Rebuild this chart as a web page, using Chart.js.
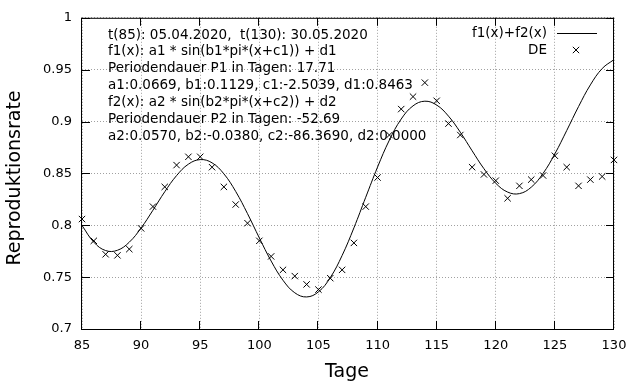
<!DOCTYPE html>
<html lang="de">
<head>
<meta charset="utf-8">
<title>Reproduktionsrate DE</title>
<script src="https://cdn.jsdelivr.net/npm/chart.js@4/dist/chart.umd.min.js"></script>
<style>
  html, body { margin: 0; padding: 0; background: #fff; }
  #wrap { width: 640px; height: 384px; }
</style>
</head>
<body>
<div id="wrap"><canvas id="rChart" width="640" height="384"></canvas></div>
<script>
'use strict';

/* ── Daten ─────────────────────────────────── */
const days = [85, 86, 87, 88, 89, 90, 91, 92, 93, 94, 95, 96, 97, 98, 99, 100,
  101, 102, 103, 104, 105, 106, 107, 108, 109, 110, 111, 112, 113, 114, 115,
  116, 117, 118, 119, 120, 121, 122, 123, 124, 125, 126, 127, 128, 129, 130];

const fitValues = [0.7998, 0.7837, 0.7756, 0.7759, 0.7837, 0.7974, 0.8145, 0.8323,
  0.8479, 0.8589, 0.8633, 0.8602, 0.8496, 0.8326, 0.8112, 0.7878, 0.7655, 0.7470,
  0.7349, 0.7309, 0.7358, 0.7495, 0.7708, 0.7975, 0.8270, 0.8561, 0.8821, 0.9024,
  0.9151, 0.9196, 0.9159, 0.9052, 0.8897, 0.8718, 0.8545, 0.8405, 0.8320, 0.8305,
  0.8367, 0.8500, 0.8689, 0.8913, 0.9144, 0.9353, 0.9511, 0.9597];

// DE Messwerte
const deValues = [0.806, 0.785, 0.772, 0.771, 0.777, 0.797, 0.818, 0.837, 0.858,
  0.866, 0.866, 0.856, 0.837, 0.820, 0.802, 0.785, 0.770, 0.757, 0.751, 0.743,
  0.738, 0.749, 0.757, 0.783, 0.818, 0.846, 0.887, 0.912, 0.924, 0.9375, 0.920,
  0.898, 0.887, 0.856, 0.849, 0.843, 0.826, 0.838, 0.844, 0.848, 0.867, 0.856,
  0.838, 0.844, 0.847, 0.863];

const xTicks = [85, 90, 95, 100, 105, 110, 115, 120, 125, 130];
const yTicks = [0.7, 0.75, 0.8, 0.85, 0.9, 0.95, 1];
const yTickLabels = ['0.7', '0.75', '0.8', '0.85', '0.9', '0.95', '1'];

const infoLines = [
  't(85): 05.04.2020,  t(130): 30.05.2020',
  'f1(x): a1 * sin(b1*pi*(x+c1)) + d1',
  'Periodendauer P1 in Tagen: 17.71',
  'a1:0.0669, b1:0.1129, c1:-2.5039, d1:0.8463',
  'f2(x): a2 * sin(b2*pi*(x+c2)) + d2',
  'Periodendauer P2 in Tagen: -52.69',
  'a2:0.0570, b2:-0.0380, c2:-86.3690, d2:0.0000',
];

const FONT = "'DejaVu Sans', sans-serif";

/* ── Rahmen, Tics, Texte (gnuplot-Stil) ────── */
const gnuplotDeco = {
  id: 'gnuplotDeco',
  afterDatasetsDraw(chart) {
    const { ctx, chartArea: a, scales } = chart;
    ctx.save();
    ctx.strokeStyle = '#000';
    ctx.lineWidth = 1;

    // Rahmen
    ctx.strokeRect(a.left - 0.5, a.top + 0.5, a.right - a.left, a.bottom - a.top);

    // Tics nach innen, gespiegelt
    const tl = 8;
    ctx.beginPath();
    xTicks.forEach(v => {
      const px = Math.round(scales.x.getPixelForValue(v)) - 0.5;
      ctx.moveTo(px, a.bottom); ctx.lineTo(px, a.bottom - tl);
      ctx.moveTo(px, a.top);    ctx.lineTo(px, a.top + tl);
    });
    yTicks.forEach(v => {
      const py = Math.round(scales.y.getPixelForValue(v)) + 0.5;
      ctx.moveTo(a.left, py);  ctx.lineTo(a.left + tl, py);
      ctx.moveTo(a.right, py); ctx.lineTo(a.right - tl, py);
    });
    ctx.stroke();

    // Infotext
    ctx.fillStyle = '#000';
    ctx.font = '13.5px ' + FONT;
    ctx.textAlign = 'left';
    ctx.textBaseline = 'middle';
    infoLines.forEach((t, i) => ctx.fillText(t, 108, 35 + i * 16.95));

    // Legende
    ctx.textAlign = 'right';
    ctx.fillText('f1(x)+f2(x)', 547, 33);
    ctx.fillText('DE', 547, 50);
    ctx.beginPath();
    ctx.moveTo(557, 33.5); ctx.lineTo(597, 33.5);
    ctx.stroke();
    Chart.helpers.drawPoint(ctx, { pointStyle: 'crossRot', radius: 4.5, borderWidth: 1 }, 576, 50);

    // Achsentitel
    ctx.font = '19px ' + FONT;
    ctx.textAlign = 'center';
    ctx.fillText('Tage', 347, 372);
    ctx.translate(15, 178);
    ctx.rotate(-Math.PI / 2);
    ctx.fillText('Reproduktionsrate', 0, 0);
    ctx.restore();
  },
};

/* ── Chart ─────────────────────────────────── */
function buildChart() {
  const canvas = document.getElementById('rChart');

  const fitPoints = days.map((d, i) => ({ x: d, y: fitValues[i] }));
  const dePoints  = days.map((d, i) => ({ x: d, y: deValues[i] }));

  return new Chart(canvas.getContext('2d'), {
    type: 'scatter',
    data: {
      datasets: [
        {
          label: 'f1(x)+f2(x)',
          data: fitPoints,
          showLine: true,
          borderColor: '#000',
          borderWidth: 1,
          tension: 0.4,
          pointRadius: 0,
          fill: false,
        },
        {
          label: 'DE',
          data: dePoints,
          pointStyle: 'crossRot',
          pointRadius: 4.5,
          pointBorderWidth: 1,
          borderColor: '#000',
          backgroundColor: '#000',
          clip: false,
        },
      ],
    },
    options: {
      responsive: false,
      animation: false,
      layout: { padding: { top: 17, right: 26, bottom: 0, left: 0 } },
      plugins: { legend: { display: false }, tooltip: { enabled: false } },
      scales: {
        x: {
          type: 'linear',
          min: 85, max: 130,
          afterFit(s) { s.height = 55; },
          afterBuildTicks(s) { s.ticks = xTicks.map(v => ({ value: v })); },
          grid: { color: '#a0a0a0', drawTicks: false },
          border: { display: false, dash: [1, 2] },
          ticks: { color: '#000', padding: 9, font: { family: FONT, size: 13 }, maxRotation: 0 },
        },
        y: {
          min: 0.7, max: 1,
          afterFit(s) { s.width = 82; },
          afterBuildTicks(s) { s.ticks = yTicks.map(v => ({ value: v })); },
          grid: { color: '#a0a0a0', drawTicks: false },
          border: { display: false, dash: [1, 2] },
          ticks: {
            color: '#000', padding: 10, font: { family: FONT, size: 13 },
            callback: (v) => yTickLabels[yTicks.indexOf(v)] ?? '',
          },
        },
      },
    },
    plugins: [gnuplotDeco],
  });
}

document.addEventListener('DOMContentLoaded', buildChart);
</script>
</body>
</html>
